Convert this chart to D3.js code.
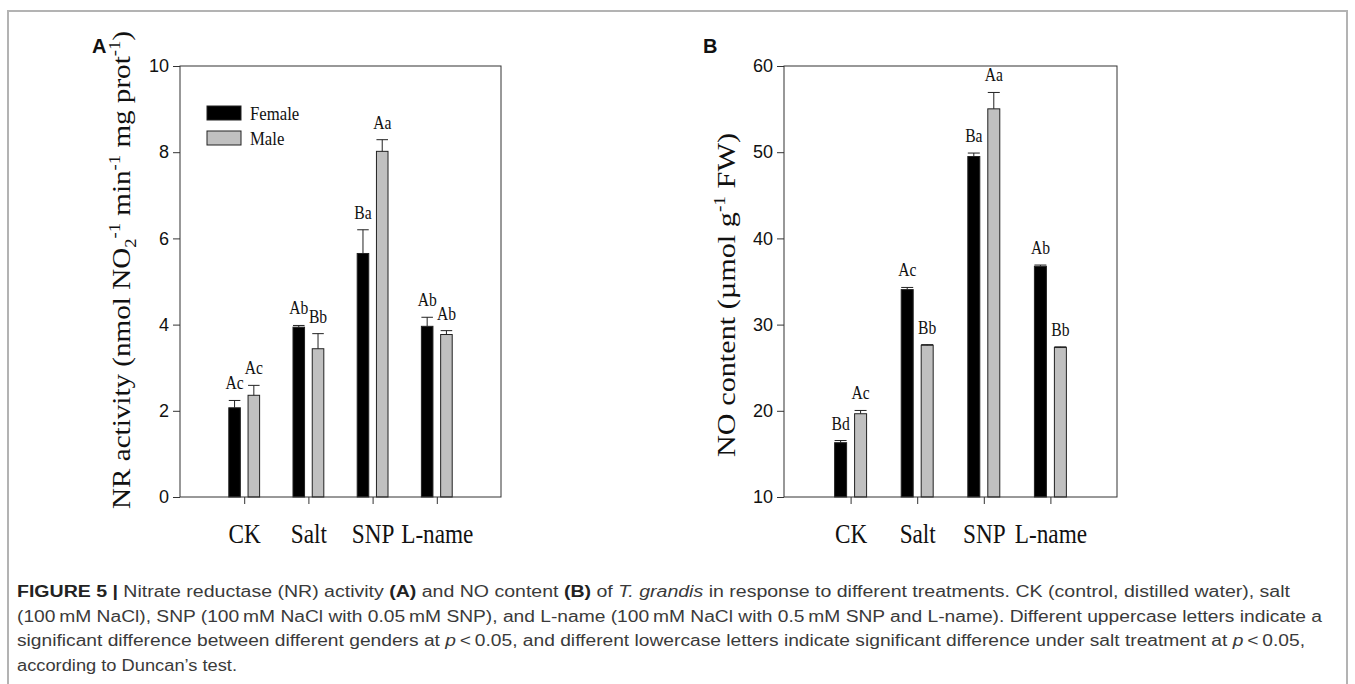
<!DOCTYPE html>
<html>
<head>
<meta charset="utf-8">
<script src="https://cdn.jsdelivr.net/npm/d3@7"></script>
<style>
  body { margin: 0; background: #fff; }
  svg { display: block; }
</style>
</head>
<body>
<div id="chart"></div>
<script>
// data
const treatments = ['CK', 'Salt', 'SNP', 'L-name'];
const seriesNames = ['Female', 'Male'];

const nrFemale = [2.07, 3.94, 5.65, 3.96];
const nrFemaleErr = [0.17, 0.04, 0.55, 0.21];
const nrMale = [2.36, 3.44, 8.02, 3.77];
const nrMaleErr = [0.23, 0.35, 0.27, 0.09];
const nrFemaleLetters = ['Ac', 'Ab', 'Ba', 'Ab'];
const nrMaleLetters = ['Ac', 'Bb', 'Aa', 'Ab'];
const nrTicks = [0, 2, 4, 6, 8, 10];

const noFemale = [16.3, 34.06, 49.5, 36.76];
const noFemaleErr = [0.25, 0.25, 0.4, 0.15];
const noMale = [19.66, 27.6, 55.03, 27.34];
const noMaleErr = [0.38, 0.08, 1.9, 0.08];
const noFemaleLetters = ['Bd', 'Ac', 'Ba', 'Ab'];
const noMaleLetters = ['Ac', 'Bb', 'Aa', 'Bb'];
const noTicks = [10, 20, 30, 40, 50, 60];

const SERIF = '"Liberation Serif", "Times New Roman", serif';
const SANS = '"Liberation Sans", Arial, sans-serif';
const colors = ['#000000', '#c0c0c0'];

const width = 1355, height = 684;

const svg = d3.select('#chart')
    .append('svg')
    .attr('width', width)
    .attr('height', height);

// the original glyphs look narrow, squeeze text a bit
function condense(sel, k) {
    sel.each(function () {
        const w = this.getComputedTextLength();
        d3.select(this).attr('textLength', w * k).attr('lengthAdjust', 'spacingAndGlyphs');
    });
}

// outer grey frame
svg.append('rect')
    .attr('x', 8).attr('y', 11)
    .attr('width', 1339).attr('height', 700)
    .attr('fill', 'none')
    .attr('stroke', '#b3b3b3')
    .attr('stroke-width', 2);

function drawPanel(opt) {
    const g = svg.append('g');

    const x = d3.scalePoint()
        .domain(treatments)
        .range([opt.left, opt.right])
        .padding(1);

    const y = d3.scaleLinear()
        .domain(opt.yDomain)
        .range([opt.bottom, opt.top]);

    const step = x.step();
    const barW = step * 0.18;
    const off = step * 0.15;

    const rows = [];
    treatments.forEach((t, i) => {
        rows.push({ t, s: 0, v: opt.female[i], e: opt.femaleErr[i], lab: opt.femaleLetters[i] });
        rows.push({ t, s: 1, v: opt.male[i], e: opt.maleErr[i], lab: opt.maleLetters[i] });
    });
    const cx = d => x(d.t) + (d.s === 0 ? -off : off);

    // y axis
    g.append('g')
        .attr('transform', `translate(${opt.left},0)`)
        .call(d3.axisLeft(y).tickValues(opt.ticks).tickSize(7).tickPadding(4).tickSizeOuter(0))
        .call(a => a.select('.domain').remove())
        .call(a => a.selectAll('line').attr('stroke', '#333'))
        .call(a => a.selectAll('text').attr('font-family', SANS).attr('font-size', 18).attr('fill', '#111'));

    // x axis
    g.append('g')
        .attr('transform', `translate(0,${opt.bottom})`)
        .call(d3.axisBottom(x).tickSize(7).tickPadding(20).tickSizeOuter(0))
        .call(a => a.select('.domain').remove())
        .call(a => a.selectAll('line').attr('stroke', '#333'))
        .call(a => a.selectAll('text').attr('font-family', SERIF).attr('font-size', 27).attr('fill', '#111')
            .call(condense, 0.86));

    // bars
    g.append('g')
        .selectAll('rect')
        .data(rows)
        .join('rect')
        .attr('x', d => cx(d) - barW / 2)
        .attr('y', d => y(d.v))
        .attr('width', barW)
        .attr('height', d => y(opt.yDomain[0]) - y(d.v))
        .attr('fill', d => colors[d.s])
        .attr('stroke', '#222')
        .attr('stroke-width', 1);

    // error bars (upper only)
    const eb = g.append('g').attr('stroke', '#222').attr('stroke-width', 1);
    eb.selectAll('line.v')
        .data(rows)
        .join('line')
        .attr('class', 'v')
        .attr('x1', cx).attr('x2', cx)
        .attr('y1', d => y(d.v)).attr('y2', d => y(d.v + d.e));
    eb.selectAll('line.c')
        .data(rows)
        .join('line')
        .attr('class', 'c')
        .attr('x1', d => cx(d) - barW / 2).attr('x2', d => cx(d) + barW / 2)
        .attr('y1', d => y(d.v + d.e)).attr('y2', d => y(d.v + d.e));

    // significance letters
    g.append('g')
        .selectAll('text')
        .data(rows)
        .join('text')
        .attr('x', cx)
        .attr('y', d => y(d.v + d.e) - 11)
        .attr('text-anchor', 'middle')
        .attr('font-family', SERIF)
        .attr('font-size', 19)
        .attr('fill', '#111')
        .text(d => d.lab)
        .call(condense, 0.82);

    // plot box
    g.append('rect')
        .attr('x', opt.left).attr('y', opt.top)
        .attr('width', opt.right - opt.left)
        .attr('height', opt.bottom - opt.top)
        .attr('fill', 'none')
        .attr('stroke', '#333')
        .attr('stroke-width', 1);

    // panel letter
    svg.append('text')
        .attr('x', opt.letterX).attr('y', 53)
        .attr('font-family', SANS).attr('font-weight', 'bold').attr('font-size', 20)
        .attr('fill', '#111')
        .text(opt.letter);

    // y title with sub/superscripts, stretched along its length like the original
    const title = svg.append('text')
        .attr('transform', `translate(${opt.titleX},${opt.titleY}) rotate(-90)`)
        .attr('text-anchor', 'middle')
        .attr('font-family', SERIF)
        .attr('font-size', 25)
        .attr('fill', '#111')
        .attr('textLength', opt.titleLen)
        .attr('lengthAdjust', 'spacingAndGlyphs');
    let shift = 0;
    opt.title.forEach(([txt, kind]) => {
        const target = kind === 'sup' ? -10 : kind === 'sub' ? 6 : 0;
        title.append('tspan')
            .attr('dy', target - shift)
            .attr('font-size', kind === 'n' ? 25 : 16)
            .text(txt);
        shift = target;
    });

    return { x, y };
}

drawPanel({
    left: 180, right: 501, top: 66, bottom: 497,
    yDomain: [0, 10], ticks: nrTicks,
    female: nrFemale, femaleErr: nrFemaleErr, male: nrMale, maleErr: nrMaleErr,
    femaleLetters: nrFemaleLetters, maleLetters: nrMaleLetters,
    letter: 'A', letterX: 92, titleX: 130, titleY: 270, titleLen: 478,
    title: [['NR activity (nmol NO', 'n'], ['2', 'sub'], ['-1', 'sup'], [' min', 'n'], ['-1', 'sup'],
            [' mg prot', 'n'], ['-1', 'sup'], [')', 'n']]
});

drawPanel({
    left: 784, right: 1117, top: 66, bottom: 497,
    yDomain: [10, 60], ticks: noTicks,
    female: noFemale, femaleErr: noFemaleErr, male: noMale, maleErr: noMaleErr,
    femaleLetters: noFemaleLetters, maleLetters: noMaleLetters,
    letter: 'B', letterX: 703, titleX: 735, titleY: 295, titleLen: 324,
    title: [['NO content (\u00b5mol g', 'n'], ['-1', 'sup'], [' FW)', 'n']]
});

// legend (panel A)
const legend = svg.append('g')
    .selectAll('g')
    .data(seriesNames)
    .join('g')
    .attr('transform', (d, i) => `translate(207,${106 + i * 25})`);
legend.append('rect')
    .attr('width', 34).attr('height', 14)
    .attr('fill', (d, i) => colors[i])
    .attr('stroke', '#222');
legend.append('text')
    .attr('x', 43).attr('y', 14)
    .attr('font-family', SERIF).attr('font-size', 19)
    .attr('fill', '#111')
    .text(d => d)
    .call(condense, 0.88);

// caption
const captionLines = [
    { w: 1273, parts: [['FIGURE 5', 'b'], ['  |  ', 'b'], ['Nitrate reductase (NR) activity ', 'n'], ['(A)', 'b'],
        [' and NO content ', 'n'], ['(B)', 'b'], [' of ', 'n'], ['T. grandis', 'i'],
        [' in response to different treatments. CK (control, distilled water), salt', 'n']] },
    { w: 1305, parts: [['(100\u2009mM NaCl), SNP (100\u2009mM NaCl with 0.05\u2009mM SNP), and L-name (100\u2009mM NaCl with 0.5\u2009mM SNP and L-name). Different uppercase letters indicate a', 'n']] },
    { w: 1288, parts: [['significant difference between different genders at ', 'n'], ['p', 'i'],
        ['\u2009<\u20090.05, and different lowercase letters indicate significant difference under salt treatment at ', 'n'],
        ['p', 'i'], ['\u2009<\u20090.05,', 'n']] },
    { w: 220, parts: [['according to Duncan\u2019s test.', 'n']] }
];
const cap = svg.append('g')
    .attr('font-family', SANS)
    .attr('font-size', 16)
    .attr('fill', '#3a3a3a');
captionLines.forEach((line, i) => {
    const t = cap.append('text')
        .attr('x', 17)
        .attr('y', 597 + i * 24.5)
        .attr('textLength', line.w)
        .attr('lengthAdjust', 'spacingAndGlyphs');
    line.parts.forEach(([txt, k]) => {
        t.append('tspan')
            .attr('font-weight', k === 'b' ? 'bold' : null)
            .attr('font-style', k === 'i' ? 'italic' : null)
            .attr('fill', k === 'b' ? '#222' : null)
            .text(txt);
    });
});
</script>
</body>
</html>
